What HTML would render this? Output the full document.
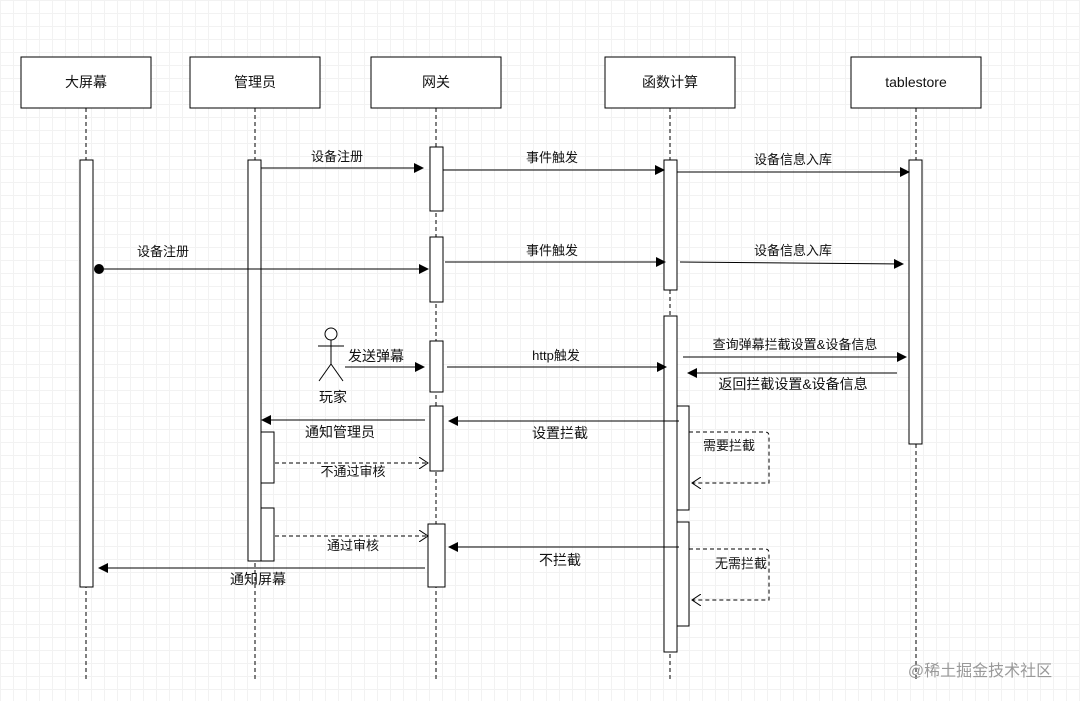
<!DOCTYPE html>
<html><head><meta charset="utf-8"><style>
html,body{margin:0;padding:0;}
body{width:1080px;height:701px;overflow:hidden;background:#fff;
background-image:linear-gradient(#f2f2f2 1px,transparent 1px),linear-gradient(90deg,#f2f2f2 1px,transparent 1px);
background-size:13px 13px;}
svg{position:absolute;left:0;top:0;}
text{font-family:"Liberation Sans","Noto Sans CJK SC",sans-serif;font-size:13px;fill:#111;text-anchor:middle;}
</style></head><body>
<svg width="1080" height="701" viewBox="0 0 1080 701">
<defs>
<marker id="a" markerWidth="10" markerHeight="10" refX="9" refY="5" orient="auto" markerUnits="userSpaceOnUse"><path d="M0,0 L10,5 L0,10 z" fill="#000"/></marker>
<marker id="o" markerWidth="10" markerHeight="12" refX="9" refY="6" orient="auto" markerUnits="userSpaceOnUse"><path d="M0,0 L9,6 L0,12" fill="none" stroke="#000"/></marker>
</defs>
<g stroke="#000" stroke-width="1" fill="#fff">
<rect x="21" y="57" width="130" height="51"/>
<rect x="190" y="57" width="130" height="51"/>
<rect x="371" y="57" width="130" height="51"/>
<rect x="605" y="57" width="130" height="51"/>
<rect x="851" y="57" width="130" height="51"/>
</g>
<g fill="#111">
<text x="86" y="87" style="font-size:14px">大屏幕</text>
<text x="255" y="87" style="font-size:14px">管理员</text>
<text x="436" y="87" style="font-size:14px">网关</text>
<text x="670" y="87" style="font-size:14px">函数计算</text>
<text x="916" y="87" style="font-size:14px">tablestore</text>
</g>
<g stroke="#000" stroke-dasharray="4,3">
<line x1="86" y1="108" x2="86" y2="680"/>
<line x1="255" y1="108" x2="255" y2="680"/>
<line x1="436" y1="108" x2="436" y2="680"/>
<line x1="670" y1="108" x2="670" y2="680"/>
<line x1="916" y1="108" x2="916" y2="680"/>
</g>
<g stroke="#000" fill="#fff">
<rect x="80" y="160" width="13" height="427"/>
<rect x="248" y="160" width="13" height="401"/>
<rect x="261" y="432" width="13" height="51"/>
<rect x="261" y="508" width="13" height="53"/>
<rect x="430" y="147" width="13" height="64"/>
<rect x="430" y="237" width="13" height="65"/>
<rect x="430" y="341" width="13" height="51"/>
<rect x="430" y="406" width="13" height="65"/>
<rect x="428" y="524" width="17" height="63"/>
<rect x="664" y="160" width="13" height="130"/>
<rect x="664" y="316" width="13" height="336"/>
<rect x="677" y="406" width="12" height="104"/>
<rect x="677" y="522" width="12" height="104"/>
<rect x="909" y="160" width="13" height="284"/>
</g>
<g stroke="#000" fill="none" marker-end="url(#a)">
<line x1="261" y1="168" x2="423" y2="168"/>
<line x1="443" y1="170" x2="664" y2="170"/>
<line x1="677" y1="172" x2="909" y2="172"/>
<line x1="99" y1="269" x2="428" y2="269"/>
<line x1="445" y1="262" x2="665" y2="262"/>
<line x1="680" y1="262" x2="903" y2="264"/>
<line x1="345" y1="367" x2="424" y2="367"/>
<line x1="447" y1="367" x2="666" y2="367"/>
<line x1="683" y1="357" x2="906" y2="357"/>
<line x1="897" y1="373" x2="688" y2="373"/>
<line x1="425" y1="420" x2="262" y2="420"/>
<line x1="679" y1="421" x2="449" y2="421"/>
<line x1="679" y1="547" x2="449" y2="547"/>
<line x1="425" y1="568" x2="99" y2="568"/>
</g>
<g stroke="#000" fill="none" stroke-dasharray="4,3" marker-end="url(#o)">
<line x1="275" y1="463" x2="428" y2="463"/>
<line x1="275" y1="536" x2="428" y2="536"/>
<path d="M689,432 L765,432 Q769,432 769,436 L769,483 L692,483"/>
<path d="M689,549 L765,549 Q769,549 769,553 L769,600 L692,600"/>
</g>
<circle cx="99" cy="269" r="5" fill="#000"/>
<g stroke="#000" fill="none">
<circle cx="331" cy="334" r="6" fill="#fff"/>
<line x1="331" y1="340" x2="331" y2="364"/>
<line x1="318" y1="346" x2="344" y2="346"/>
<line x1="331" y1="364" x2="319" y2="381"/>
<line x1="331" y1="364" x2="343" y2="381"/>
</g>
<text x="337" y="161">设备注册</text>
<text x="552" y="162">事件触发</text>
<text x="793" y="164">设备信息入库</text>
<text x="163" y="256">设备注册</text>
<text x="552" y="255">事件触发</text>
<text x="793" y="255">设备信息入库</text>
<text x="376" y="361" style="font-size:14px">发送弹幕</text>
<text x="333" y="402" style="font-size:14px">玩家</text>
<text x="556" y="360">http触发</text>
<text x="795" y="349">查询弹幕拦截设置&amp;设备信息</text>
<text x="793" y="389" style="font-size:14px">返回拦截设置&amp;设备信息</text>
<text x="340" y="437" style="font-size:14px">通知管理员</text>
<text x="560" y="438" style="font-size:14px">设置拦截</text>
<text x="729" y="450">需要拦截</text>
<text x="353" y="476">不通过审核</text>
<text x="353" y="550">通过审核</text>
<text x="560" y="565" style="font-size:14px">不拦截</text>
<text x="741" y="568">无需拦截</text>
<text x="258" y="584" style="font-size:14px">通知屏幕</text>
<text x="980" y="676" style="font-size:16px;fill:#999">@稀土掘金技术社区</text>
</svg>
</body></html>
